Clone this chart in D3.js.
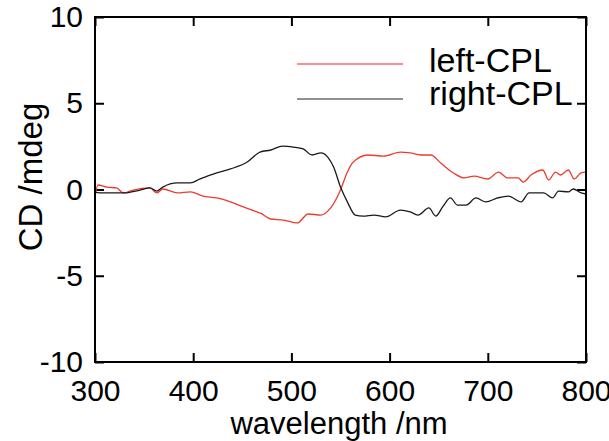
<!DOCTYPE html>
<meta charset="UTF-8">
<style>
body { margin: 0; background: #fff; }
text { font-family: "Liberation Sans", Arial, sans-serif; fill: #000; }
.frame { fill: none; stroke: #000; stroke-width: 2px; }
.tick line { stroke: #000; stroke-width: 2px; }
.curve { fill: none; stroke-width: 1.3px; stroke-linejoin: round; }
</style>
<body>
<script src="https://cdn.jsdelivr.net/npm/d3@7"></script>
<script>

// tick values
var xTicks = [300, 400, 500, 600, 700, 800];
var yTicks = [-10, -5, 0, 5, 10];

// left-CPL (red)
var leftWl  = [300, 303, 312, 322, 329, 339, 356, 363, 369, 384, 397, 410, 424, 438, 451, 465, 468, 479, 492, 506,
               517, 530, 540, 550, 557, 563, 578, 594, 611, 621, 632, 642, 652, 665, 676, 686, 700, 711, 720, 731,
               736, 744, 756, 762, 769, 774, 782, 788, 795, 800];
var leftCD  = [-0.43, 0.26, 0.14, 0.09, -0.2, -0.03, 0.09, -0.2, 0.03, -0.2, -0.14, -0.38, -0.49, -0.72, -1.01, -1.3, -1.36, -1.71, -1.77, -1.94,
               -1.42, -1.48, -1.07, -0.03, 1.01, 1.59, 2.0, 1.94, 2.17, 2.12, 2.0, 2.0, 1.54, 0.96, 0.67, 0.78, 0.61, 1.01, 0.67, 0.67,
               0.43, 0.84, 1.13, 0.55, 1.01, 0.84, 1.13, 0.61, 0.96, 1.01];

// right-CPL (black)
var rightWl = [300, 305, 329, 346, 356, 363, 369, 384, 397, 407, 424, 438, 455, 468, 479, 491, 502, 512, 521, 530,
               537, 543, 550, 557, 565, 573, 584, 596, 611, 621, 629, 640, 647, 654, 662, 669, 678, 688, 698, 710,
               721, 734, 742, 757, 766, 772, 782, 787, 795, 800];
var rightCD = [-0.15, -0.19, -0.2, -0.03, 0.09, -0.09, 0.14, 0.38, 0.38, 0.61, 0.96, 1.19, 1.59, 2.17, 2.29, 2.52, 2.46, 2.35, 2.0, 2.12,
               1.88, 1.3, 0.14, -0.72, -1.48, -1.54, -1.48, -1.59, -1.19, -1.3, -1.48, -1.07, -1.54, -1.01, -0.49, -0.9, -0.9, -0.49, -0.72, -0.49,
               -0.38, -0.72, -0.2, -0.2, -0.49, -0.09, -0.14, 0.03, -0.2, -0.26];

var seriesNames = ["left-CPL", "right-CPL"];
var seriesColors = ["#ee3b2f", "#1a1a1a"];

var W = 609, H = 441;
var margin = {top: 17, right: 23, bottom: 79, left: 95};
var width = W - margin.left - margin.right,
    height = H - margin.top - margin.bottom;

var svg = d3.select("body").append("svg")
    .attr("width", W)
    .attr("height", H);

var g = svg.append("g")
    .attr("transform", "translate(" + margin.left + "," + margin.top + ")");

var x = d3.scaleLinear().domain([300, 800]).range([0, width]);
var y = d3.scaleLinear().domain([-10, 10]).range([height, 0]);

var tickLen = 9;
// plain hyphen for negatives, like the original
var fmt = function(d) { return String(d); };

// bottom axis
g.append("g")
    .attr("transform", "translate(0," + height + ")")
    .call(d3.axisBottom(x).tickValues(xTicks).tickFormat(fmt).tickSize(-tickLen).tickPadding(18).tickSizeOuter(0));
// top axis (ticks only)
g.append("g")
    .call(d3.axisTop(x).tickValues(xTicks).tickSize(-tickLen).tickFormat("").tickSizeOuter(0));
// left axis
g.append("g")
    .call(d3.axisLeft(y).tickValues(yTicks).tickFormat(fmt).tickSize(-tickLen).tickPadding(12).tickSizeOuter(0));
// right axis (ticks only)
g.append("g")
    .attr("transform", "translate(" + width + ",0)")
    .call(d3.axisRight(y).tickValues(yTicks).tickSize(-tickLen).tickFormat("").tickSizeOuter(0));

g.selectAll(".domain").remove();
g.selectAll(".tick text")
    .attr("fill", "#000")
    .style("font-size", "30px")
    .style("font-family", "'Liberation Sans', Arial, sans-serif");

// curves
var line = d3.line()
    .x(function(d) { return x(d[0]); })
    .y(function(d) { return y(d[1]); })
    .curve(d3.curveMonotoneX);

var series = [d3.zip(leftWl, leftCD), d3.zip(rightWl, rightCD)];

g.selectAll("path.curve")
    .data(series)
  .enter().append("path")
    .attr("class", "curve")
    .attr("stroke", function(d, i) { return seriesColors[i]; })
    .attr("d", line);

// frame
g.append("rect")
    .attr("class", "frame")
    .attr("width", width)
    .attr("height", height);

// legend
var legend = g.selectAll("g.legend")
    .data(seriesNames)
  .enter().append("g")
    .attr("class", "legend")
    .attr("transform", function(d, i) { return "translate(202," + (47 + i * 35) + ")"; });

legend.append("line")
    .attr("x1", 0).attr("x2", 106)
    .attr("stroke", function(d, i) { return i === 0 ? "#ff2020" : "#222"; })
    .attr("stroke-width", 1.2);

legend.append("text")
    .attr("x", 132)
    .attr("y", function(d, i) { return i === 0 ? 8 : 6; })
    .style("font-size", "34px")
    .text(function(d) { return d; });

// axis titles
svg.append("text")
    .attr("x", 339)
    .attr("y", 434)
    .attr("text-anchor", "middle")
    .style("font-size", "31px")
    .text("wavelength /nm");

svg.append("text")
    .attr("transform", "translate(42,177) rotate(-90)")
    .attr("text-anchor", "middle")
    .style("font-size", "33px")
    .text("CD /mdeg");

</script>
</body>
